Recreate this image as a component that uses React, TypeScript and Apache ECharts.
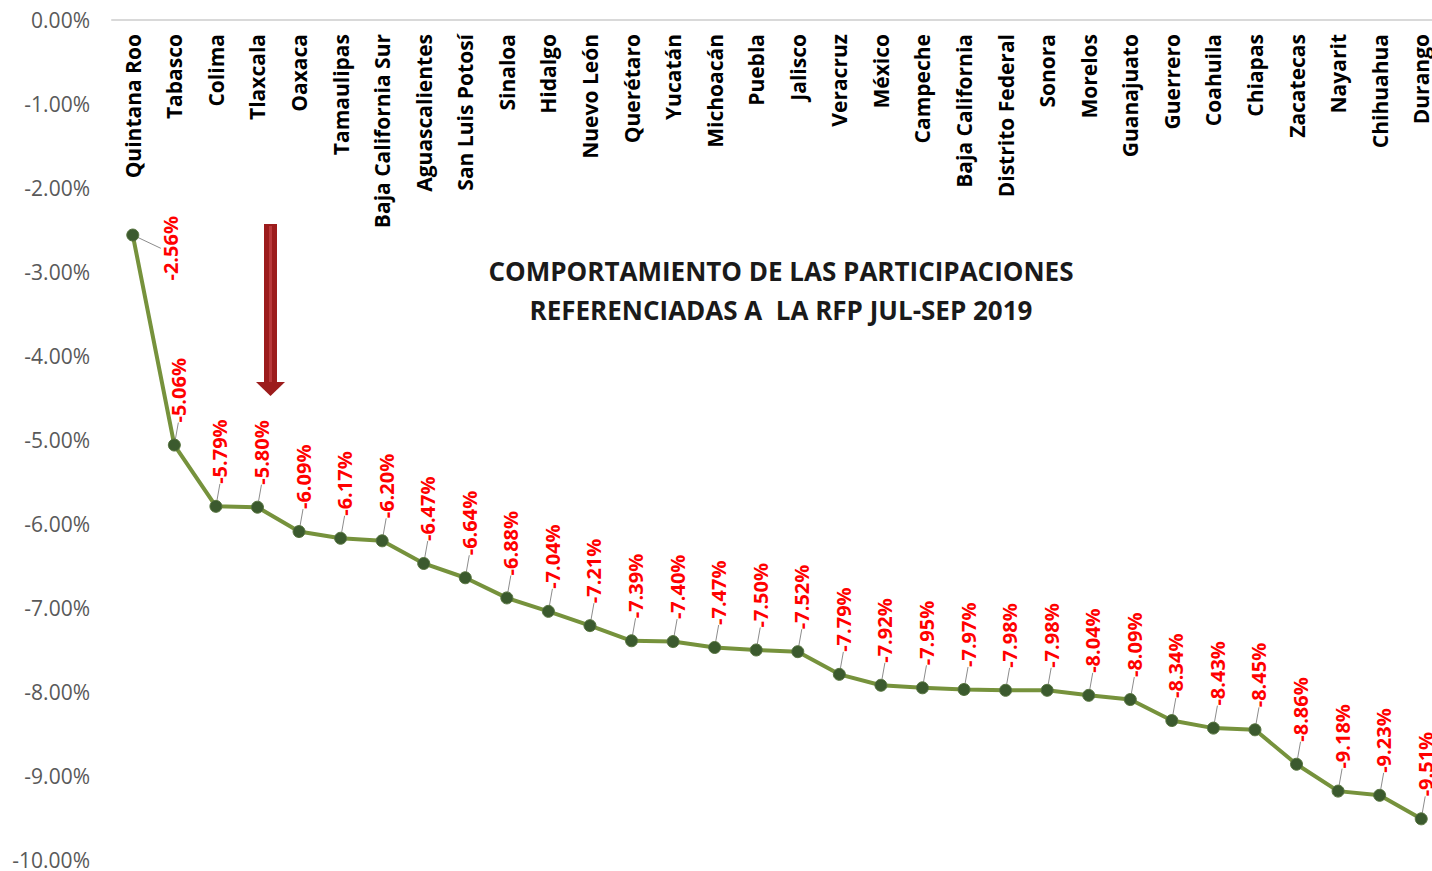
import React, { useEffect, useRef } from "react";
import * as echarts from "echarts";

const categories = [
  "Quintana Roo", "Tabasco", "Colima", "Tlaxcala", "Oaxaca", "Tamaulipas",
  "Baja California Sur", "Aguascalientes", "San Luis Potosí", "Sinaloa", "Hidalgo",
  "Nuevo León", "Querétaro", "Yucatán", "Michoacán", "Puebla", "Jalisco", "Veracruz",
  "México", "Campeche", "Baja California", "Distrito Federal", "Sonora", "Morelos",
  "Guanajuato", "Guerrero", "Coahuila", "Chiapas", "Zacatecas", "Nayarit", "Chihuahua",
  "Durango",
];

const values = [
  -2.56, -5.06, -5.79, -5.8, -6.09, -6.17, -6.2, -6.47, -6.64, -6.88, -7.04,
  -7.21, -7.39, -7.4, -7.47, -7.5, -7.52, -7.79, -7.92, -7.95, -7.97, -7.98,
  -7.98, -8.04, -8.09, -8.34, -8.43, -8.45, -8.86, -9.18, -9.23, -9.51,
];

const titleLines = [
  "COMPORTAMIENTO DE LAS PARTICIPACIONES",
  "REFERENCIADAS A  LA RFP JUL-SEP 2019",
];

const yMin = -10;
const yMax = 0;
const yInterval = 1;

export default function App() {
  const ref = useRef<HTMLDivElement>(null);

  useEffect(() => {
    if (!ref.current) return;
    document.body.style.overflow = "hidden";
    document.documentElement.style.overflow = "hidden";
    const chart = echarts.init(ref.current, undefined, { renderer: "svg" });
    const font = "'Open Sans', 'Liberation Sans', sans-serif";

    chart.setOption({
      animation: false,
      backgroundColor: "#ffffff",
      textStyle: { fontFamily: font },
      title: {
        text: titleLines.join("\n"),
        left: 776,
        top: 246,
        textAlign: "center",
        textStyle: {
          fontFamily: font,
          fontSize: 26,
          fontWeight: "bold",
          color: "#1a1a1a",
          lineHeight: 39,
        },
      },
      grid: { left: 112, top: 20, right: 8, height: 840, containLabel: false },
      xAxis: {
        type: "category",
        position: "top",
        data: categories,
        boundaryGap: true,
        axisLine: { show: true, lineStyle: { color: "#d9d9d9", width: 2 } },
        axisTick: { show: false },
        splitLine: { show: false },
        axisLabel: {
          inside: true,
          rotate: 90,
          interval: 0,
          margin: 14,
          fontFamily: font,
          fontSize: 21,
          fontWeight: "bold",
          color: "#000000",
        },
      },
      yAxis: {
        type: "value",
        min: yMin,
        max: yMax,
        interval: yInterval,
        axisLine: { show: false },
        axisTick: { show: false },
        splitLine: { show: false },
        axisLabel: {
          margin: 22,
          fontFamily: font,
          fontSize: 21,
          lineHeight: 16,
          color: "#595959",
          formatter: (v: number) => v.toFixed(2) + "%",
        },
      },
      series: [
        {
          type: "line",
          data: values,
          symbol: "circle",
          symbolSize: 12,
          lineStyle: { color: "#76923c", width: 4 },
          itemStyle: { color: "#3b5a2e", borderColor: "#56733e", borderWidth: 1 },
          label: {
            show: true,
            position: "top",
            distance: 4,
            rotate: 90,
            align: "left",
            verticalAlign: "middle",
            fontFamily: font,
            fontSize: 20,
            fontWeight: "bold",
            color: "#ff0000",
            formatter: (p: any) => Number(p.value).toFixed(2) + "%",
          },
          labelLayout: (p: any) =>
            p.dataIndex === 0 ? { dx: -56, dy: 38 } : { dx: 12, dy: 4 },
          labelLine: { show: true, lineStyle: { color: "#8c8c8c", width: 1 } },
        },
      ],
      graphic: [
        {
          type: "rect",
          shape: { x: 264, y: 224, width: 13, height: 160 },
          style: { fill: "#9c1c1c" },
        },
        {
          type: "polygon",
          shape: { points: [[256, 382], [285, 382], [270.5, 396]] },
          style: { fill: "#9c1c1c" },
        },
        {
          type: "rect",
          shape: { x: 269, y: 226, width: 3, height: 156 },
          style: { fill: "#b8383a" },
        },
      ],
    });

    return () => chart.dispose();
  }, []);

  return (
    <div
      ref={ref}
      style={{ position: "absolute", left: 0, top: 0, width: 1450, height: 871 }}
    />
  );
}
